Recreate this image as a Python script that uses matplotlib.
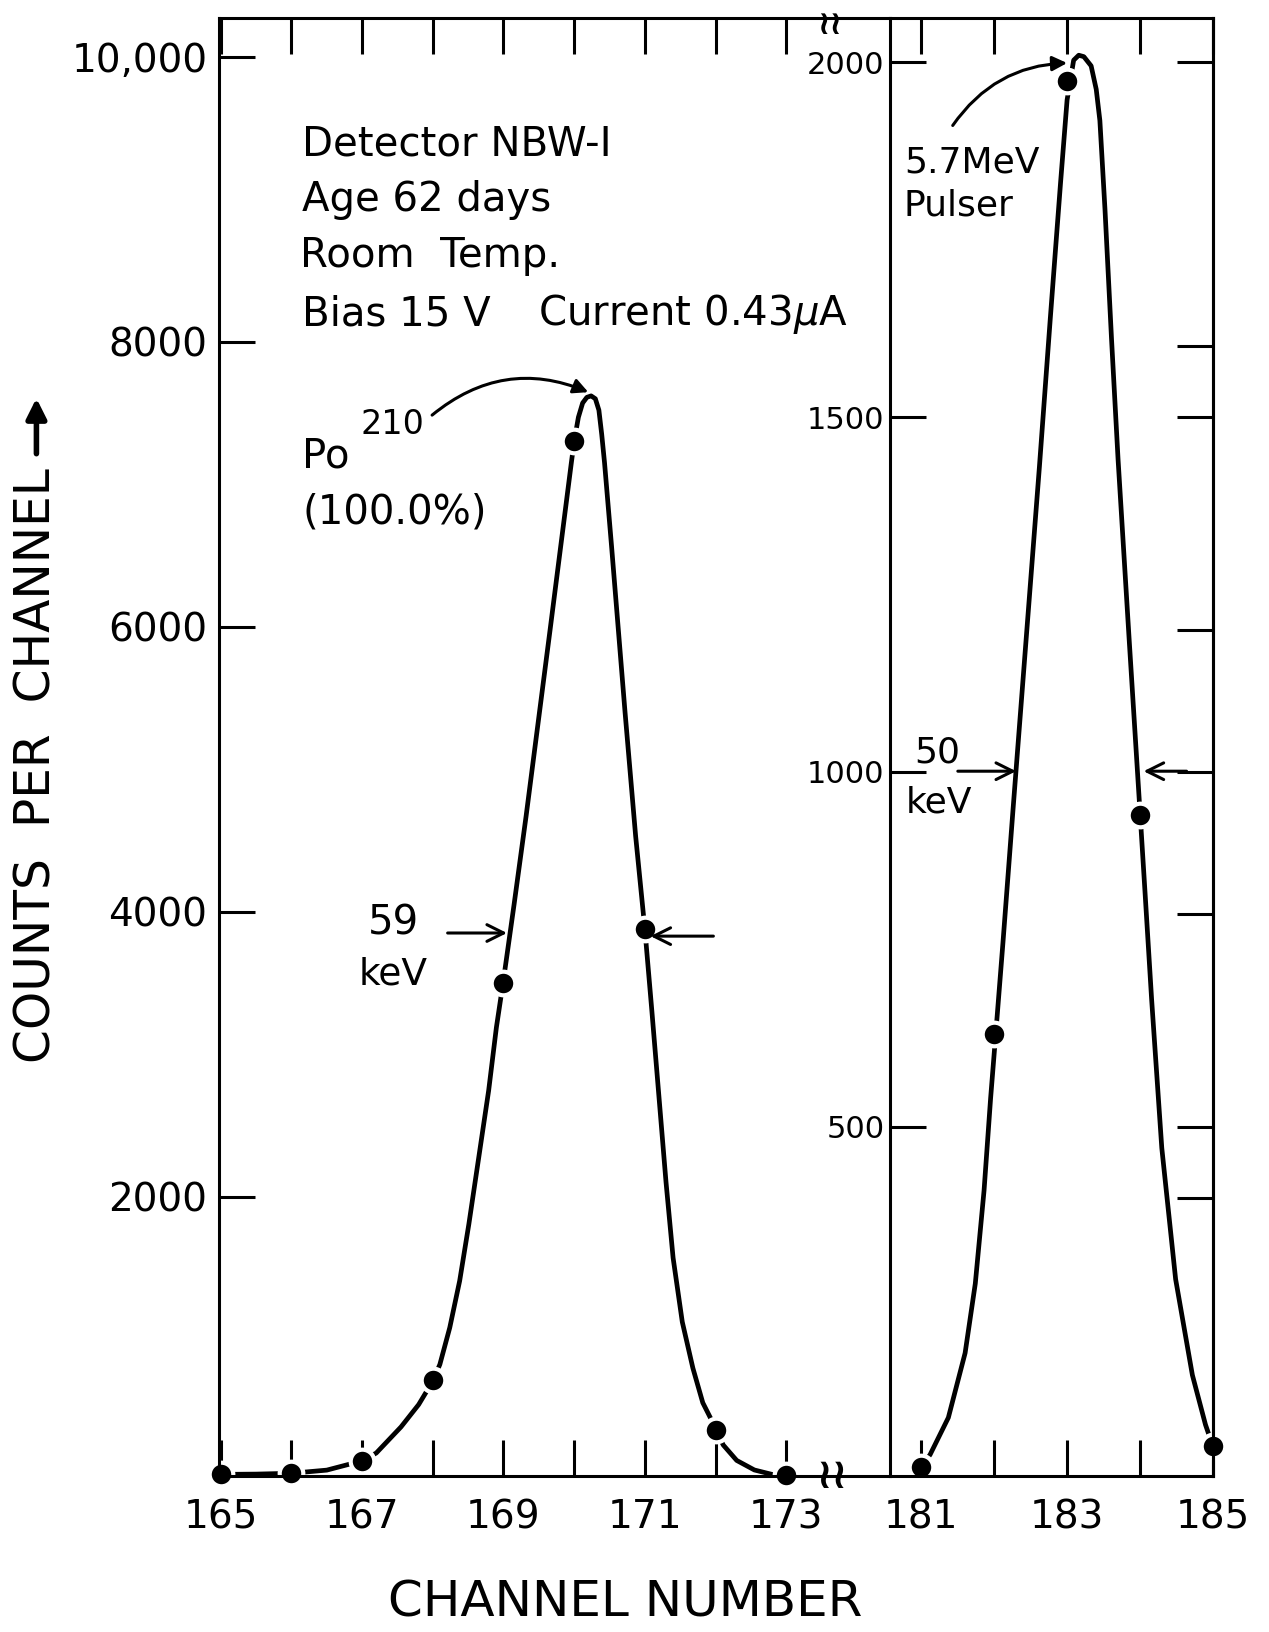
import matplotlib
matplotlib.use('Agg')
import matplotlib.pyplot as plt

# Po210 alpha peak - measured points
po_ch = [165, 166, 167, 168, 169, 170, 171, 172, 173]
po_counts = [55, 60, 145, 710, 3500, 7300, 3880, 365, 45]

# hand drawn curve through the Po210 points
po_curve_ch = [165.0, 165.5, 166.0, 166.5, 167.0, 167.2, 167.55, 167.8, 168.0, 168.1,
               168.24, 168.38, 168.51, 168.65, 168.79, 168.9, 169.0, 169.15, 169.32, 169.66,
               169.96, 170.0, 170.06, 170.12, 170.18, 170.24, 170.3, 170.35, 170.39, 170.43,
               170.53, 170.72, 170.87, 171.0, 171.1, 171.2, 171.3, 171.4, 171.53, 171.68,
               171.82, 171.93, 172.0, 172.11, 172.3, 172.55, 172.84, 173.0]
po_curve_counts = [50, 52, 58, 80, 145, 200, 383, 540, 705, 822,
                   1080, 1408, 1806, 2274, 2743, 3188, 3520, 4050, 4670, 5980,
                   7150, 7300, 7470, 7570, 7610, 7620, 7600, 7520, 7350, 7150,
                   6560, 5400, 4530, 3880, 3300, 2700, 2100, 1570, 1120, 796,
                   553, 445, 365, 256, 148, 81, 45, 40]

# 5.7 MeV pulser peak
pu_ch = [181, 182, 183, 184, 185]
pu_counts = [20, 630, 1973, 939, 50]

pu_curve_ch = [181.0, 181.12, 181.37, 181.6, 181.74, 181.86, 181.95, 182.02, 182.12, 182.26,
               182.44, 182.62, 182.77, 182.91, 183.0, 183.09, 183.16, 183.23, 183.33, 183.4,
               183.45, 183.52, 183.61, 183.7, 183.85, 184.0, 184.07, 184.16, 184.3, 184.49,
               184.72, 184.9, 185.0]
pu_curve_counts = [20, 38, 90, 181, 279, 410, 540, 630, 760, 950,
                   1190, 1430, 1640, 1830, 1947, 2003, 2010, 2008, 1995, 1962,
                   1918, 1793, 1610, 1440, 1190, 945, 830, 680, 470, 285,
                   150, 80, 50]

left_yticks = [2000, 4000, 6000, 8000, 10000]
left_ylabels = ['2000', '4000', '6000', '8000', '10,000']
left_xticks = [165, 166, 167, 168, 169, 170, 171, 172, 173]
left_xlabels = ['165', '', '167', '', '169', '', '171', '', '173']
right_xticks = [181, 182, 183, 184, 185]
right_xlabels = ['181', '', '183', '', '185']
right_yticks = [500, 1000, 1500, 2000]
right_spine_ticks = [400, 500, 800, 1000, 1200, 1500, 1600, 2000]

plt.rcParams['font.family'] = ['DejaVu Sans']

fig = plt.figure(figsize=(12.69, 16.32), dpi=100)
ax1 = fig.add_axes([0.1723, 0.0957, 0.5291, 0.8935])
ax2 = fig.add_axes([0.7014, 0.0957, 0.2543, 0.8935])

SW = 2.2   # spine width
TL = 26    # tick length
FS = 29    # note text size

# ---- left panel (Po210)
ax1.plot(po_curve_ch, po_curve_counts, color='black', lw=3.4, solid_capstyle='round', zorder=2)
ax1.plot(po_ch, po_counts, 'o', color='black', ms=17, mec='white', mew=3, zorder=2.4, clip_on=False)
ax1.set_xlim(164.97, 174.47)
ax1.set_ylim(40, 10275)
ax1.set_xticks(left_xticks)
ax1.set_xticklabels(left_xlabels)
ax1.set_yticks(left_yticks)
ax1.set_yticklabels(left_ylabels)
ax1.tick_params(axis='x', direction='in', length=TL, width=SW, top=True, bottom=True,
                labelsize=28, pad=16)
ax1.tick_params(axis='y', direction='in', length=TL, width=SW, left=True, right=False,
                labelsize=28, pad=8)
ax1.spines['right'].set_visible(False)
for s in ['left', 'top', 'bottom']:
    ax1.spines[s].set_linewidth(SW)

ax1.text(166.15, 9385, 'Detector NBW-I', fontsize=FS, va='center')
ax1.text(166.15, 8998, 'Age 62 days', fontsize=FS, va='center')
ax1.text(166.12, 8603, 'Room  Temp.', fontsize=FS, va='center')
ax1.text(166.15, 8194, 'Bias 15 V', fontsize=FS, va='center')
ax1.text(169.49, 8194, r'Current 0.43$\mu$A', fontsize=FS, va='center')
ax1.text(166.15, 7192, 'Po', fontsize=FS, va='center')
ax1.text(166.98, 7420, '210', fontsize=24, va='center')
ax1.text(166.15, 6804, '(100.0%)', fontsize=FS, va='center')
ax1.annotate('', xy=(170.2, 7646), xytext=(167.99, 7485),
             arrowprops=dict(arrowstyle='-|>', lw=2.2, color='black', mutation_scale=22,
                             connectionstyle='arc3,rad=-0.3', shrinkA=0, shrinkB=0))

ax1.text(167.44, 3916, '59', fontsize=FS, va='center', ha='center')
ax1.text(167.44, 3560, 'keV', fontsize=27, va='center', ha='center')
ax1.annotate('', xy=(169.05, 3850), xytext=(168.21, 3850),
             arrowprops=dict(arrowstyle='->', lw=2.2, color='black', mutation_scale=30,
                             shrinkA=0, shrinkB=0))
ax1.annotate('', xy=(171.08, 3828), xytext=(171.97, 3828),
             arrowprops=dict(arrowstyle='->', lw=2.2, color='black', mutation_scale=30,
                             shrinkA=0, shrinkB=0))

# axis break marks
ax1.text(173.62, 10230, '\u2240\u2240', fontsize=24, fontweight='bold',
         ha='center', va='center', clip_on=False)
ax1.text(173.65, 40, '\u2240\u2240', fontsize=30, fontweight='bold',
         ha='center', va='center', clip_on=False)

# ---- right panel (pulser)
ax2.plot(pu_curve_ch, pu_curve_counts, color='black', lw=3.4, solid_capstyle='round', zorder=2)
ax2.plot(pu_ch, pu_counts, 'o', color='black', ms=17, mec='white', mew=3, zorder=2.4, clip_on=False)
ax2.set_xlim(180.57, 185)
ax2.set_ylim(8, 2063)
ax2.set_xticks(right_xticks)
ax2.set_xticklabels(right_xlabels)
ax2.set_yticks(right_yticks)
ax2.tick_params(axis='x', direction='in', length=TL, width=SW, top=True, bottom=True,
                labelsize=28, pad=16)
ax2.tick_params(axis='y', direction='in', length=TL, width=SW, left=True, right=False,
                labelsize=22, pad=4)
for s in ax2.spines.values():
    s.set_linewidth(SW)

ax2r = ax2.twinx()
ax2r.set_ylim(8, 2063)
ax2r.set_yticks(right_spine_ticks)
ax2r.tick_params(axis='y', direction='in', length=TL, width=SW, labelright=False)
for s in ['left', 'top', 'bottom']:
    ax2r.spines[s].set_visible(False)
ax2r.spines['right'].set_linewidth(SW)

ax2.text(180.76, 1859, '5.7MeV', fontsize=26, va='center')
ax2.text(180.76, 1798, 'Pulser', fontsize=26, va='center')
ax2.annotate('', xy=(183.0, 1999), xytext=(181.43, 1911),
             arrowprops=dict(arrowstyle='-|>', lw=2.2, color='black', mutation_scale=22,
                             connectionstyle='arc3,rad=-0.25', shrinkA=0, shrinkB=0))
ax2.text(180.9, 1028, '50', fontsize=26, va='center')
ax2.text(180.79, 957, 'keV', fontsize=26, va='center')
ax2.annotate('', xy=(182.3, 1001), xytext=(181.5, 1001),
             arrowprops=dict(arrowstyle='->', lw=2.2, color='black', mutation_scale=30,
                             shrinkA=0, shrinkB=0))
ax2.annotate('', xy=(184.05, 1001), xytext=(184.64, 1001),
             arrowprops=dict(arrowstyle='->', lw=2.2, color='black', mutation_scale=30,
                             shrinkA=0, shrinkB=0))

# ---- axis titles
fig.text(0.493, 0.018, 'CHANNEL NUMBER', fontsize=36, ha='center', va='center')
fig.text(0.0287, 0.531, 'COUNTS  PER  CHANNEL', fontsize=35, rotation=90,
         ha='center', va='center')
plt.annotate('', xy=(0.0287, 0.756), xytext=(0.0287, 0.722), xycoords='figure fraction',
             textcoords='figure fraction',
             arrowprops=dict(arrowstyle='-|>', lw=4, color='black', mutation_scale=30,
                             shrinkA=0, shrinkB=0))

fig.savefig('out.png', dpi=100)
